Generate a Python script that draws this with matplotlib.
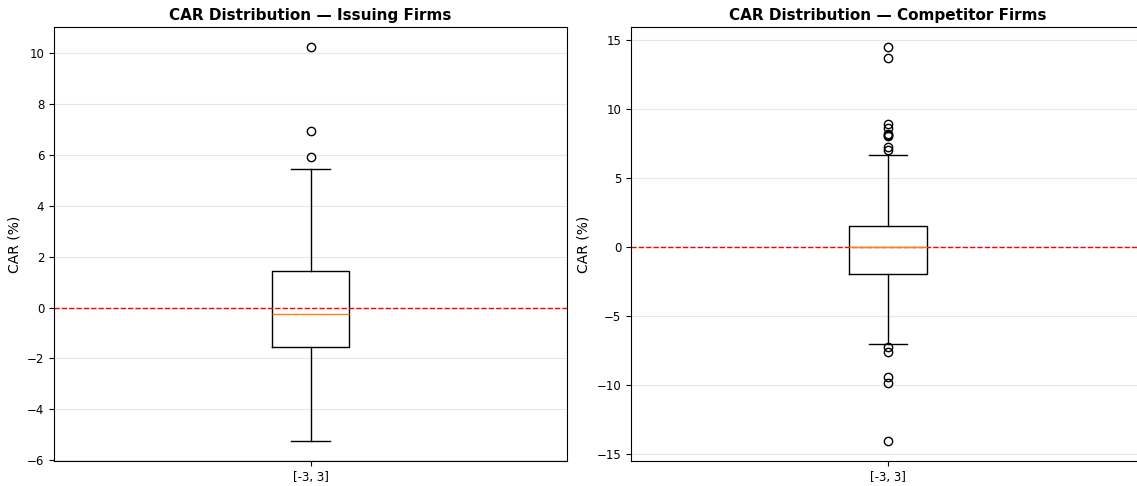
import matplotlib
matplotlib.use("Agg")
import matplotlib.pyplot as plt

# Box statistics (CAR in %, window [-3, 3])
window_label = "[-3, 3]"

issuing_stats = {
    "med": -0.27, "q1": -1.53, "q3": 1.45,
    "whislo": -5.25, "whishi": 5.42,
    "fliers": [5.93, 6.94, 10.24],
}

competitor_stats = {
    "med": -0.05, "q1": -2.0, "q3": 1.5,
    "whislo": -7.03, "whishi": 6.67,
    "fliers": [7.0, 7.2, 8.0, 8.1, 8.2, 8.6, 8.9, 13.67, 14.5,
               -7.3, -7.62, -9.42, -9.9, -14.1],
}

panels = [
    ("CAR Distribution \u2014 Issuing Firms", issuing_stats),
    ("CAR Distribution \u2014 Competitor Firms", competitor_stats),
]

W, H = 1137, 486
fig = plt.figure(figsize=(W / 100, H / 100), dpi=100)
# axes boxes in pixels: (left, right), shared top/bottom
# the right panel runs slightly past the image edge, as in the reference
boxes = [(54, 567), (631, 1145)]
top_px, bottom_px = 27, 461

for (x0, x1), (title, stats) in zip(boxes, panels):
    ax = fig.add_axes([x0 / W, 1 - bottom_px / H, (x1 - x0) / W,
                       (bottom_px - top_px) / H])
    s = dict(stats, label=window_label)
    ax.bxp([s], positions=[1], widths=0.15, showfliers=True,
           medianprops=dict(color="#ff7f0e"))
    ax.axhline(0, color="red", linestyle="--", linewidth=1)
    ax.set_xlim(0.5, 1.5)
    ax.set_title(title, fontsize=11, fontweight="bold", pad=5)
    ax.set_ylabel("CAR (%)", fontsize=10)
    ax.tick_params(labelsize=8.5)
    ax.yaxis.grid(True, alpha=0.3)
    ax.set_axisbelow(True)

fig.savefig("out.png", dpi=100)
